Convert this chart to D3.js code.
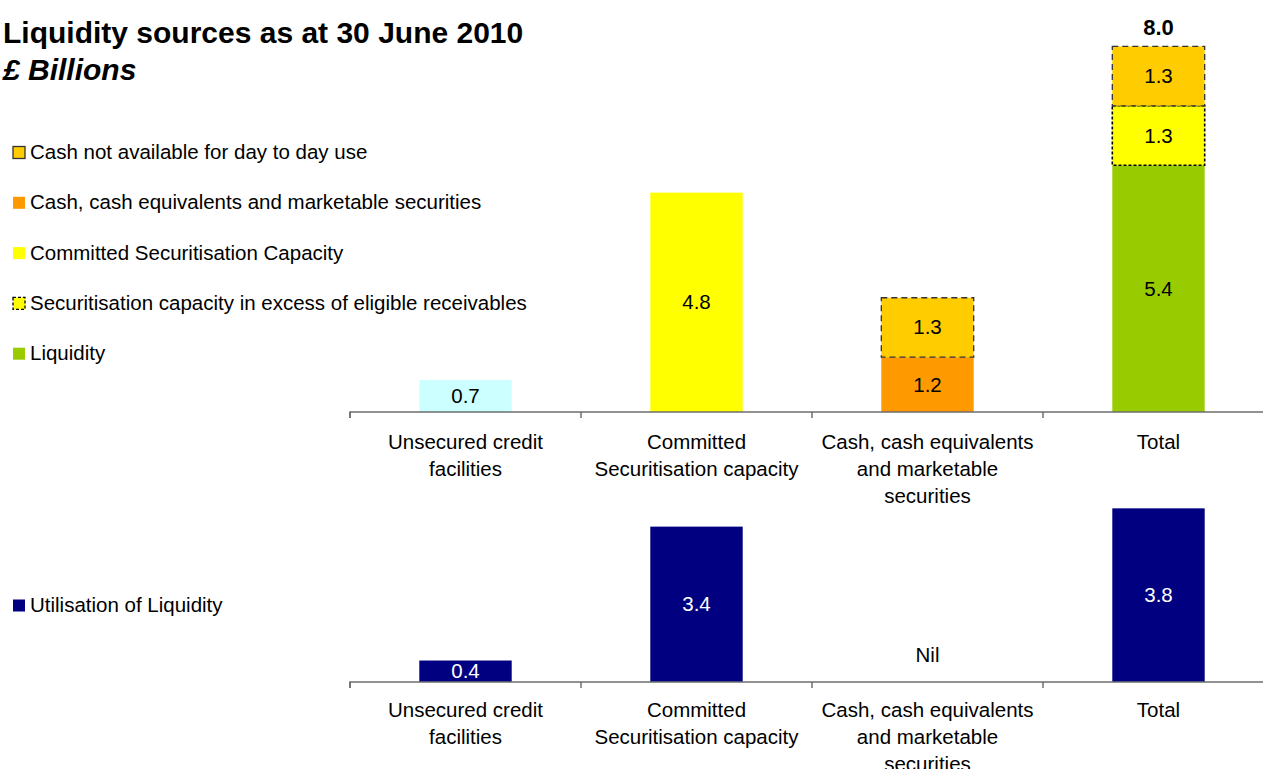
<!DOCTYPE html>
<html>
<head>
<meta charset="utf-8">
<script src="https://cdn.jsdelivr.net/npm/d3@7"></script>
<style>
  html, body { margin: 0; padding: 0; background: #fff; }
  svg text { font-family: 'Liberation Sans', Arial, sans-serif; }
</style>
</head>
<body>
<div id="chart"></div>
<script>
// categories (label lines)
const categories = ['unsecured', 'committed', 'cash', 'total']
const categoryLines = [
  ['Unsecured credit', 'facilities'],
  ['Committed', 'Securitisation capacity'],
  ['Cash, cash equivalents', 'and marketable', 'securities'],
  ['Total']
]

// top chart series (£ billions)
const unsecuredFacilities = [0.7, 0, 0, 0]
const committedSecuritisation = [0, 4.8, 0, 0]
const cashEquivalents = [0, 0, 1.2, 0]
const liquidity = [0, 0, 0, 5.4]
const securitisationExcess = [0, 0, 0, 1.3]
const cashNotAvailable = [0, 0, 1.3, 1.3]
const totalLabel = ['', '', '', '8.0']

// bottom chart series
const utilisation = [0.47, 3.4, 0, 3.8]
const utilisationLabels = ['0.4', '3.4', 'Nil', '3.8']

const legendTop = [
  { key: 'cashNotAvailable', label: 'Cash not available for day to day use' },
  { key: 'cashEquivalents', label: 'Cash, cash equivalents and marketable securities' },
  { key: 'committedSecuritisation', label: 'Committed Securitisation Capacity' },
  { key: 'securitisationExcess', label: 'Securitisation capacity in excess of eligible receivables' },
  { key: 'liquidity', label: 'Liquidity' }
]

const styles = {
  unsecuredFacilities: { fill: '#CCFFFF' },
  committedSecuritisation: { fill: '#FFFF00' },
  cashEquivalents: { fill: '#FF9900' },
  liquidity: { fill: '#99CC00' },
  securitisationExcess: { fill: '#FFFF00', stroke: '#000', dash: '3,2', sw: 1.6, legendDash: '3,2' },
  cashNotAvailable: { fill: '#FFCC00', stroke: '#333', dash: '6,4', sw: 1.3, legendDash: null },
  utilisation: { fill: '#000080' }
}

const FONT = '20.5px'

const dimensions = {
  width: 1263,
  height: 769,
  axisLeft: 350,
  step: 231,
  topBase: 412,
  bottomBase: 682,
  pxPerUnit: 45.7
}

const svg = d3.select('#chart')
  .append('svg')
  .attr('width', dimensions.width)
  .attr('height', dimensions.height)

// title
svg.append('text')
  .attr('x', 3).attr('y', 43)
  .style('font-size', '30px').style('font-weight', 'bold')
  .text('Liquidity sources as at 30 June 2010')
svg.append('text')
  .attr('x', 3).attr('y', 80)
  .style('font-size', '30px').style('font-weight', 'bold').style('font-style', 'italic')
  .text('£ Billions')

const xScale = d3.scaleBand()
  .domain(categories)
  .range([dimensions.axisLeft, dimensions.axisLeft + dimensions.step * categories.length])
  .paddingInner(0.6)
  .paddingOuter(0.3)

function makeY(base) {
  return d3.scaleLinear()
    .domain([0, 8])
    .range([base, base - 8 * dimensions.pxPerUnit])
}
const yTop = makeY(dimensions.topBase)
const yBottom = makeY(dimensions.bottomBase)

function renderXaxis(base, labelTop) {
  const axis = d3.axisBottom(xScale).tickSize(0).tickFormat('')
  const g = svg.append('g')
    .attr('transform', `translate(0, ${base})`)
    .call(axis)
  g.select('.domain')
    .attr('d', `M${dimensions.axisLeft},6V0H${dimensions.width}`)
    .attr('stroke', '#6e6e6e')
    .attr('stroke-width', 1.5)
  // separator ticks between categories
  const edges = d3.range(categories.length + 1).map(i => dimensions.axisLeft + i * xScale.step())
  g.selectAll('line.sep')
    .data(edges)
    .enter()
    .append('line')
    .attr('class', 'sep')
    .attr('x1', d => d).attr('x2', d => d)
    .attr('y1', 0).attr('y2', 6)
    .attr('stroke', '#6e6e6e')
    .attr('stroke-width', 1.5)

  categories.forEach((c, i) => {
    const t = svg.append('text')
      .attr('x', xScale(c) + xScale.bandwidth() / 2)
      .attr('y', labelTop)
      .attr('text-anchor', 'middle')
      .style('font-size', FONT)
      .attr('fill', '#000')
    categoryLines[i].forEach((line, j) => {
      t.append('tspan')
        .attr('x', xScale(c) + xScale.bandwidth() / 2)
        .attr('dy', j === 0 ? 0 : 27)
        .text(line)
    })
  })
}

// top stacked chart
const seriesByKey = { unsecuredFacilities, committedSecuritisation, cashEquivalents, liquidity, securitisationExcess, cashNotAvailable }
const stackKeys = ['unsecuredFacilities', 'committedSecuritisation', 'cashEquivalents', 'liquidity', 'securitisationExcess', 'cashNotAvailable']
const table = categories.map((c, i) => {
  const row = { category: c }
  stackKeys.forEach(k => { row[k] = seriesByKey[k][i] })
  return row
})
const stacked = d3.stack().keys(stackKeys)(table)

const topG = svg.append('g')
stacked.forEach(layer => {
  const st = styles[layer.key]
  const segs = layer.filter(d => d[1] - d[0] > 0)
  topG.selectAll(null)
    .data(segs)
    .enter()
    .append('rect')
    .attr('x', d => xScale(d.data.category))
    .attr('width', xScale.bandwidth())
    .attr('y', d => yTop(d[1]))
    .attr('height', d => yTop(d[0]) - yTop(d[1]))
    .attr('fill', st.fill)
    .attr('stroke', st.stroke || 'none')
    .attr('stroke-width', st.sw || 0)
    .attr('stroke-dasharray', st.dash || null)

  topG.selectAll(null)
    .data(segs)
    .enter()
    .append('text')
    .attr('x', d => xScale(d.data.category) + xScale.bandwidth() / 2)
    .attr('y', d => (yTop(d[0]) + yTop(d[1])) / 2 + 7)
    .attr('text-anchor', 'middle')
    .style('font-size', FONT)
    .text(d => d3.format('.1f')(d[1] - d[0]))
})

// total label
topG.selectAll(null)
  .data(categories.filter((c, i) => totalLabel[i] !== ''))
  .enter()
  .append('text')
  .attr('x', d => xScale(d) + xScale.bandwidth() / 2)
  .attr('y', d => yTop(d3.sum(stackKeys, k => seriesByKey[k][categories.indexOf(d)])) - 11)
  .attr('text-anchor', 'middle')
  .style('font-size', '22px')
  .style('font-weight', 'bold')
  .text(d => totalLabel[categories.indexOf(d)])

renderXaxis(dimensions.topBase, 449)

// bottom chart
const botG = svg.append('g')
botG.selectAll('rect')
  .data(categories)
  .enter()
  .append('rect')
  .attr('x', d => xScale(d))
  .attr('width', xScale.bandwidth())
  .attr('y', (d, i) => yBottom(utilisation[i]))
  .attr('height', (d, i) => yBottom(0) - yBottom(utilisation[i]))
  .attr('fill', styles.utilisation.fill)

botG.selectAll('text')
  .data(categories)
  .enter()
  .append('text')
  .attr('x', d => xScale(d) + xScale.bandwidth() / 2)
  .attr('y', (d, i) => utilisation[i] > 0
    ? (yBottom(0) + yBottom(utilisation[i])) / 2 + 7
    : yBottom(0) - 20)
  .attr('text-anchor', 'middle')
  .attr('fill', (d, i) => utilisation[i] > 0 ? '#fff' : '#000')
  .style('font-size', FONT)
  .text((d, i) => utilisationLabels[i])

renderXaxis(dimensions.bottomBase, 717)

// legends
function legendSwatch(g, st, y) {
  g.append('rect')
    .attr('x', 13).attr('y', y - 5.5)
    .attr('width', 12).attr('height', 12)
    .attr('fill', st.fill)
    .attr('stroke', st.stroke || 'none')
    .attr('stroke-width', st.stroke ? 1.3 : 0)
    .attr('stroke-dasharray', st.legendDash || null)
}
const legendG = svg.append('g')
legendTop.forEach((item, i) => {
  const y = 152 + i * 50.3
  legendSwatch(legendG, styles[item.key], y)
  legendG.append('text')
    .attr('x', 30).attr('y', y + 7)
    .style('font-size', FONT)
    .text(item.label)
})
legendSwatch(legendG, styles.utilisation, 605)
legendG.append('text')
  .attr('x', 30).attr('y', 612)
  .style('font-size', FONT)
  .text('Utilisation of Liquidity')
</script>
</body>
</html>
